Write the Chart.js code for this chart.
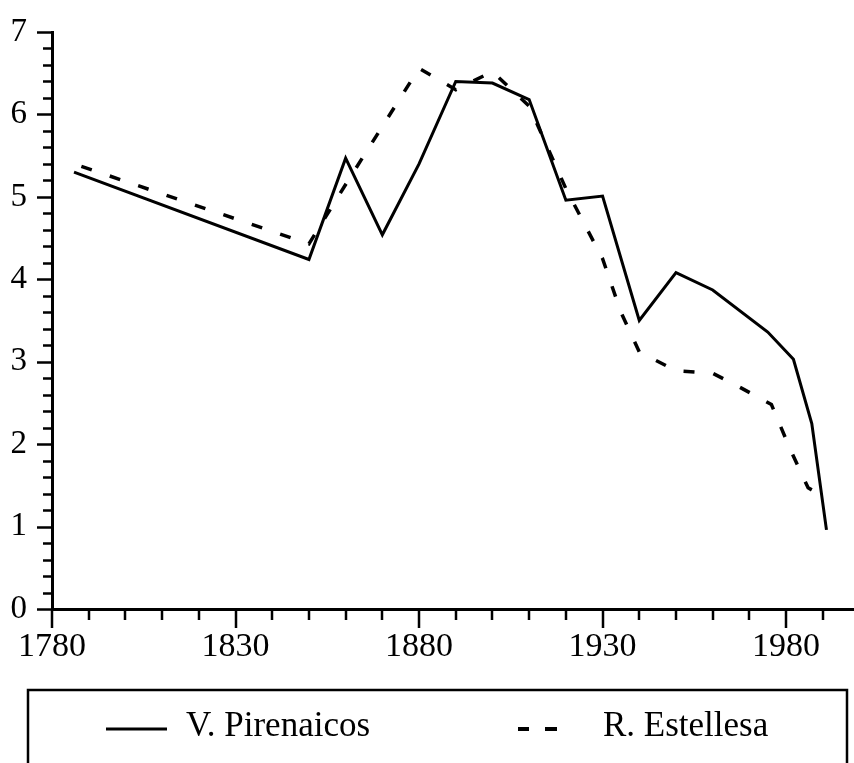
<!DOCTYPE html>
<html>
<head>
<meta charset="utf-8">
<script src="https://cdn.jsdelivr.net/npm/chart.js@4.4.0/dist/chart.umd.min.js"></script>
<style>
  body { margin: 0; background: #fff; }
  #wrap { width: 854px; height: 763px; }
</style>
</head>
<body>
<div id="wrap"><canvas id="place__graph1"></canvas></div>
<script>
// V. Pirenaicos (solid)
const pirYears = [1786, 1850, 1860, 1870, 1880, 1890, 1900, 1910, 1920, 1930, 1940, 1950, 1960, 1975, 1982, 1987, 1991];
const pirVals  = [5.30, 4.24, 5.47, 4.54, 5.40, 6.40, 6.38, 6.18, 4.96, 5.01, 3.50, 4.08, 3.87, 3.36, 3.03, 2.25, 0.96];

// R. Estellesa (dashed)
const estYears = [1788, 1850, 1860, 1880, 1890, 1900, 1910, 1920, 1930, 1935, 1940, 1950, 1960, 1967, 1976, 1981, 1986, 1990];
const estVals  = [5.37, 4.43, 5.15, 6.56, 6.30, 6.52, 6.10, 5.10, 4.25, 3.60, 3.12, 2.89, 2.86, 2.70, 2.48, 1.95, 1.47, 1.37];

const xLabels = [1780, 1830, 1880, 1930, 1980];
const yLabels = [0, 1, 2, 3, 4, 5, 6, 7];

const serif = "'Liberation Serif', 'Times New Roman', serif";

function toPoints(xs, ys) {
  return xs.map((x, i) => ({ x: x, y: ys[i] }));
}

// tick marks: long at labels, short in between
const axisTicks = {
  id: 'axisTicks',
  afterDraw(chart) {
    const ctx = chart.ctx;
    const xs = chart.scales.x, ys = chart.scales.y;
    ctx.save();
    ctx.strokeStyle = '#000';
    ctx.lineWidth = 2.5;
    ctx.beginPath();
    for (let v = 0; v <= 70; v += 2) {
      const py = Math.round(ys.getPixelForValue(v / 10)) + 0.5;
      const len = v % 10 === 0 ? 15 : 9;
      ctx.moveTo(xs.left - len, py);
      ctx.lineTo(xs.left, py);
    }
    for (let yr = 1780; yr <= 1990; yr += 10) {
      const px = Math.round(xs.getPixelForValue(yr));
      const len = xLabels.includes(yr) ? 19 : 11;
      ctx.moveTo(px, ys.bottom);
      ctx.lineTo(px, ys.bottom + len);
    }
    ctx.stroke();
    ctx.restore();
  }
};

// boxed legend under the axis, cut by the bottom edge
const boxLegend = {
  id: 'boxLegend',
  afterDraw(chart) {
    const ctx = chart.ctx;
    const ds = chart.data.datasets;
    const top = 690, left = 28, right = 847, bottom = chart.height + 5;
    ctx.save();
    ctx.strokeStyle = '#000';
    ctx.lineWidth = 2.5;
    ctx.beginPath();
    ctx.moveTo(left, bottom);
    ctx.lineTo(left, top);
    ctx.lineTo(right, top);
    ctx.lineTo(right, bottom);
    ctx.stroke();

    const lineY = 729;
    ctx.lineWidth = 3;
    ctx.beginPath();
    ctx.moveTo(106, lineY);
    ctx.lineTo(167, lineY);
    ctx.stroke();

    ctx.lineWidth = 4;
    ctx.beginPath();
    ctx.moveTo(518, lineY);
    ctx.lineTo(529, lineY);
    ctx.moveTo(545, lineY);
    ctx.lineTo(557, lineY);
    ctx.stroke();

    ctx.fillStyle = '#000';
    ctx.font = '35px ' + serif;
    ctx.textBaseline = 'alphabetic';
    ctx.textAlign = 'left';
    ctx.fillText(ds[0].label, 186, 736);
    ctx.fillText(ds[1].label, 603, 736);
    ctx.restore();
  }
};

const ctx = document.getElementById('place__graph1').getContext('2d');
const chart = new Chart(ctx, {
  type: 'line',
  data: {
    datasets: [{
      label: 'V. Pirenaicos',
      data: toPoints(pirYears, pirVals),
      borderColor: '#000',
      borderWidth: 3,
      pointRadius: 0,
      tension: 0,
      fill: false
    },
    {
      label: 'R. Estellesa',
      data: toPoints(estYears, estVals),
      borderColor: '#000',
      borderWidth: 3.5,
      borderDash: [11, 19],
      pointRadius: 0,
      tension: 0,
      fill: false
    }]
  },
  options: {
    responsive: true,
    maintainAspectRatio: false,
    animation: false,
    layout: { padding: { top: 32, right: 0, left: 0, bottom: 0 } },
    plugins: {
      legend: { display: false },
      tooltip: { enabled: false }
    },
    scales: {
      x: {
        type: 'linear',
        min: 1780,
        max: 1998.5,
        // ticks drawn by the plugin; tickLength only spaces the labels
        grid: { display: false, drawTicks: true, tickLength: 18 },
        border: { display: true, color: '#000', width: 3 },
        ticks: {
          stepSize: 10,
          autoSkip: false,
          maxRotation: 0,
          padding: 0,
          color: '#000',
          font: { family: serif, size: 34 },
          callback: (v) => xLabels.includes(v) ? String(v) : ''
        },
        afterFit: (s) => { s.height = 763 - 609; }
      },
      y: {
        min: 0,
        max: 7,
        grid: { display: false, drawTicks: true, tickLength: 25 },
        border: { display: true, color: '#000', width: 3 },
        ticks: {
          stepSize: 1,
          padding: 0,
          color: '#000',
          font: { family: serif, size: 33 },
          callback: (v) => yLabels.includes(v) ? String(v) : ''
        },
        afterFit: (s) => { s.width = 52; }
      }
    }
  },
  plugins: [axisTicks, boxLegend]
});
</script>
</body>
</html>
